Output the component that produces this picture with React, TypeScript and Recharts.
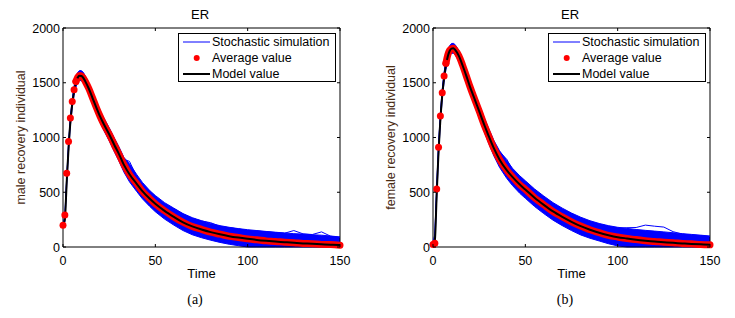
import React from "react";
import { ComposedChart, Line, Area, XAxis, YAxis, Legend, ReferenceArea } from "recharts";

// sample times shared by every series
const times = [0, 1, 2, 3, 4, 5, 6, 7, 8, 9, 10, 11, 12, 14, 16, 18, 20, 22, 25, 28, 30, 33, 36, 40, 43, 47, 50, 55, 60, 65, 70, 75, 80, 85, 90, 95, 100, 105, 110, 115, 120, 125, 130, 135, 140, 145, 150];

// (a) male
const maleModel = [200, 250, 590, 900, 1140, 1305, 1420, 1500, 1548, 1565, 1562, 1545, 1515, 1445, 1360, 1275, 1195, 1125, 1030, 925, 860, 750, 665, 575, 510, 440, 395, 330, 275, 225, 188, 160, 136, 116, 99, 86, 75, 65, 57, 50, 44, 38, 33, 29, 25, 21, 18];
const maleAverage = [198, 293, 674, 963, 1177, 1329, 1436, 1512, 1552, 1566, 1562, 1544, 1514, 1446, 1362, 1276, 1196, 1124, 1031, 926, 858, 752, 664, 576, 509, 441, 394, 331, 274, 226, 187, 161, 135, 117, 98, 87, 74, 66, 56, 51, 43, 39, 32, 30, 24, 22, 17];
const maleSimLow = [195, 230, 560, 870, 1110, 1270, 1385, 1460, 1505, 1522, 1518, 1500, 1468, 1395, 1308, 1222, 1140, 1068, 970, 862, 795, 683, 595, 505, 440, 370, 322, 255, 200, 150, 112, 85, 62, 42, 25, 12, 0, 0, 0, 0, 0, 0, 0, 0, 0, 0, 0];
const maleSimHigh = [205, 290, 640, 950, 1190, 1350, 1470, 1550, 1595, 1612, 1610, 1595, 1565, 1497, 1414, 1330, 1250, 1182, 1090, 988, 925, 818, 760, 660, 590, 515, 470, 405, 355, 305, 268, 240, 215, 195, 180, 168, 158, 150, 142, 135, 128, 122, 118, 112, 108, 100, 92];
const maleSimRun = [202, 270, 615, 930, 1170, 1335, 1455, 1535, 1585, 1605, 1600, 1585, 1552, 1480, 1395, 1312, 1230, 1160, 1065, 965, 905, 800, 782, 640, 565, 505, 455, 392, 350, 300, 262, 238, 222, 188, 176, 165, 150, 146, 140, 132, 126, 150, 120, 114, 138, 98, 88];

// (b) female
const femaleModel = [20, 60, 480, 870, 1165, 1385, 1545, 1660, 1740, 1790, 1812, 1815, 1800, 1745, 1660, 1565, 1465, 1375, 1240, 1105, 1020, 900, 800, 700, 640, 570, 525, 450, 385, 325, 275, 230, 190, 158, 130, 108, 90, 78, 67, 58, 50, 44, 38, 33, 28, 24, 21];
const femaleAverage = [22, 34, 530, 910, 1196, 1409, 1561, 1677, 1753, 1796, 1812, 1814, 1799, 1746, 1661, 1564, 1466, 1374, 1241, 1104, 1021, 899, 801, 699, 641, 569, 526, 449, 386, 324, 276, 229, 191, 157, 131, 107, 91, 77, 68, 57, 51, 43, 39, 32, 29, 23, 20];
const femaleSimLow = [15, 25, 440, 830, 1130, 1345, 1505, 1620, 1700, 1748, 1768, 1770, 1755, 1697, 1608, 1510, 1408, 1315, 1178, 1040, 953, 830, 728, 625, 562, 490, 445, 370, 305, 245, 195, 150, 110, 80, 55, 30, 10, 0, 0, 0, 0, 0, 0, 0, 0, 0, 0];
const femaleSimHigh = [30, 120, 560, 940, 1220, 1440, 1595, 1710, 1790, 1838, 1858, 1860, 1848, 1795, 1712, 1620, 1522, 1433, 1302, 1170, 1088, 972, 880, 790, 720, 650, 605, 530, 465, 405, 355, 310, 272, 240, 215, 195, 180, 170, 160, 152, 145, 138, 130, 122, 115, 108, 100];
const femaleSimRun = [25, 110, 540, 925, 1205, 1425, 1580, 1695, 1778, 1826, 1846, 1848, 1836, 1782, 1700, 1606, 1510, 1420, 1290, 1160, 1075, 960, 870, 800, 705, 640, 590, 520, 452, 395, 345, 300, 262, 230, 208, 190, 172, 176, 178, 200, 190, 182, 140, 118, 110, 104, 96];

const xTicks = [0, 50, 100, 150];
const yTicks = [0, 500, 1000, 1500, 2000];

const FONT = "'Liberation Sans', Arial, Helvetica, sans-serif";
const W = 365;
const H = 318;
const margin = { top: 28, right: 25, bottom: 39, left: 21 };
const Y_AXIS_W = 42;
const X_AXIS_H = 32;
const PLOT_TOP = margin.top;
const PLOT_RIGHT = W - margin.right;
const TICK = 3;

// early averages show as separate dots; later they overlap into a band
const buildRows = (model: number[], avg: number[], low: number[], high: number[], run: number[]) =>
  times.map((t, i) => ({
    t,
    model: model[i],
    avgDot: t <= 7 ? avg[i] : null,
    avgBand: t >= 7 ? avg[i] : null,
    band: [low[i], high[i]],
    run: run[i],
  }));

const XTick = (props: any) => {
  const { x, y, payload } = props;
  return (
    <g>
      <line x1={x} x2={x} y1={y} y2={y - TICK} stroke="#000" />
      <line x1={x} x2={x} y1={PLOT_TOP} y2={PLOT_TOP + TICK} stroke="#000" />
      <text x={x} y={y + 17.5} textAnchor="middle" fontFamily={FONT} fontSize={12.5} fill="#000">
        {payload.value}
      </text>
    </g>
  );
};

const YTick = (props: any) => {
  const { x, y, payload } = props;
  return (
    <g>
      <line x1={x} x2={x + TICK} y1={y} y2={y} stroke="#000" />
      <line x1={PLOT_RIGHT} x2={PLOT_RIGHT - TICK} y1={y} y2={y} stroke="#000" />
      <text x={x - 3} y={y + 4.5} textAnchor="end" fontFamily={FONT} fontSize={12.5} fill="#000">
        {payload.value}
      </text>
    </g>
  );
};

const legendItems = [
  { label: "Stochastic simulation", kind: "line", color: "#0000ff", width: 1 },
  { label: "Average value", kind: "dot", color: "#ff0000", width: 0 },
  { label: "Model value", kind: "line", color: "#000000", width: 2 },
];

const LegendBox = () => (
  <div
    style={{
      width: 156,
      height: 47,
      border: "1px solid #000",
      background: "#fff",
      fontFamily: FONT,
      fontSize: 12.5,
      color: "#000",
    }}
  >
    {legendItems.map((item) => (
      <div key={item.label} style={{ display: "flex", alignItems: "center", height: 16, whiteSpace: "nowrap" }}>
        <svg width={33} height={16} style={{ flex: "none" }}>
          {item.kind === "line" ? (
            <line x1={4} x2={31} y1={8} y2={8} stroke={item.color} strokeWidth={item.width} />
          ) : (
            <circle cx={17.7} cy={8} r={3} fill={item.color} />
          )}
        </svg>
        <span>{item.label}</span>
      </div>
    ))}
  </div>
);

type PanelProps = {
  left: number;
  yLabel: string;
  caption: string;
  rows: ReturnType<typeof buildRows>;
};

const Panel = ({ left, yLabel, caption, rows }: PanelProps) => (
  <div style={{ position: "absolute", left, top: 0, width: W, height: H }}>
    <div
      style={{
        position: "absolute",
        left: 0,
        width: 400,
        top: 6,
        textAlign: "center",
        fontFamily: FONT,
        fontSize: 13,
        lineHeight: "18px",
        pointerEvents: "none",
      }}
    >
      ER
    </div>
    <ComposedChart width={W} height={H} data={rows} margin={margin}>
      <XAxis
        dataKey="t"
        type="number"
        domain={[0, 150]}
        ticks={xTicks}
        height={X_AXIS_H}
        axisLine={false}
        tickLine={false}
        tickSize={0}
        tickMargin={0}
        tick={<XTick />}
        interval={0}
        label={{ value: "Time", position: "insideBottom", offset: 1.5, fill: "#000", fontSize: 13, fontFamily: FONT }}
      />
      <YAxis
        type="number"
        domain={[0, 2000]}
        ticks={yTicks}
        width={Y_AXIS_W}
        axisLine={false}
        tickLine={false}
        tickSize={0}
        tickMargin={0}
        tick={<YTick />}
        interval={0}
        label={{
          value: yLabel,
          angle: -90,
          position: "insideLeft",
          offset: 0,
          fill: "#4a2c14",
          fontSize: 12.5,
          fontFamily: FONT,
          style: { textAnchor: "middle" },
        }}
      />
      <Area
        type="linear"
        dataKey="band"
        fill="#0000ff"
        fillOpacity={1}
        stroke="#0000ff"
        strokeWidth={1}
        isAnimationActive={false}
        activeDot={false}
      />
      <Line type="linear" dataKey="run" stroke="#0000ff" strokeWidth={1} dot={false} activeDot={false} isAnimationActive={false} />
      <Line
        type="monotone"
        dataKey="avgBand"
        stroke="#ff0000"
        strokeWidth={7}
        strokeLinecap="round"
        dot={false}
        activeDot={false}
        isAnimationActive={false}
      />
      <Line
        type="monotone"
        dataKey="avgDot"
        stroke="none"
        dot={{ r: 3.5, fill: "#ff0000", stroke: "none" }}
        activeDot={false}
        isAnimationActive={false}
      />
      <Line type="monotone" dataKey="model" stroke="#000" strokeWidth={2} dot={false} activeDot={false} isAnimationActive={false} />
      <ReferenceArea x1={0} x2={150} y1={0} y2={2000} fill="none" stroke="#000" strokeWidth={1} ifOverflow="visible" />
      <Legend
        layout="horizontal"
        align="center"
        verticalAlign="middle"
        content={() => <LegendBox />}
        wrapperStyle={{ left: 178, top: 33, width: 158, height: 49 }}
      />
    </ComposedChart>
    <div
      style={{
        position: "absolute",
        left: 0,
        width: 390,
        top: 290,
        textAlign: "center",
        fontFamily: "'Liberation Serif', 'Times New Roman', serif",
        fontSize: 14,
        lineHeight: "20px",
      }}
    >
      {caption}
    </div>
  </div>
);

export default function App() {
  const maleRows = buildRows(maleModel, maleAverage, maleSimLow, maleSimHigh, maleSimRun);
  const femaleRows = buildRows(femaleModel, femaleAverage, femaleSimLow, femaleSimHigh, femaleSimRun);
  return (
    <div style={{ position: "absolute", left: 0, top: 0, width: 735, height: 318, background: "#fff", overflow: "hidden" }}>
      <Panel left={0} yLabel="male recovery individual" caption="(a)" rows={maleRows} />
      <Panel left={370} yLabel="female recovery individual" caption="(b)" rows={femaleRows} />
    </div>
  );
}
